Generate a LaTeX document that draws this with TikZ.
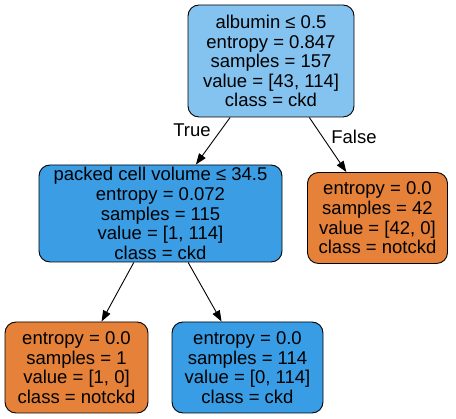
\documentclass[tikz,border=0pt]{standalone}
\usepackage{fontspec}
\setmainfont{Liberation Sans}
\usetikzlibrary{arrows.meta}
\definecolor{ckdlight}{HTML}{84C2EF}
\definecolor{ckd}{HTML}{399DE5}
\definecolor{ckdnode}{HTML}{3B9EE5}
\definecolor{notckd}{HTML}{E58139}
\begin{document}
\begin{tikzpicture}[x=1pt,y=1pt,
  tnode/.style={draw=black, line width=0.9pt, rounded corners=11pt, align=center, inner sep=0pt,
    font=\fontsize{18.5}{19.6}\selectfont},
  edge/.style={draw=black, line width=0.9pt, -{Triangle[length=11pt,width=8pt]}, shorten >=0pt},
  elabel/.style={font=\fontsize{18.5}{19.6}\selectfont}]
\useasboundingbox (0,0) rectangle (456,419);
\node[tnode, fill=ckdlight, minimum width=166pt, minimum height=112pt] (n0) at (271,358)
  {albumin ≤ 0.5\\entropy = 0.847\\samples = 157\\value = [43, 114]\\class = ckd};
\node[tnode, fill=ckdnode, minimum width=243pt, minimum height=97pt] (n1) at (160.5,205.5)
  {packed cell volume ≤ 34.5\\entropy = 0.072\\samples = 115\\value = [1, 114]\\class = ckd};
\node[tnode, fill=notckd, minimum width=140pt, minimum height=91pt] (n4) at (377.5,201)
  {entropy = 0.0\\samples = 42\\value = [42, 0]\\class = notckd};
\node[tnode, fill=notckd, minimum width=143pt, minimum height=91pt] (n2) at (76.5,51.5)
  {entropy = 0.0\\samples = 1\\value = [1, 0]\\class = notckd};
\node[tnode, fill=ckd, minimum width=151pt, minimum height=91pt] (n3) at (247.5,51.5)
  {entropy = 0.0\\samples = 114\\value = [0, 114]\\class = ckd};
\draw[edge] (n0) -- (n1);
\draw[edge] (n0) -- (n4);
\draw[edge] (n1) -- (n2);
\draw[edge] (n1) -- (n3);
\node[elabel] (t) at (192,289) {True};
\node[elabel] (f) at (354,282) {False};
\end{tikzpicture}
\end{document}
